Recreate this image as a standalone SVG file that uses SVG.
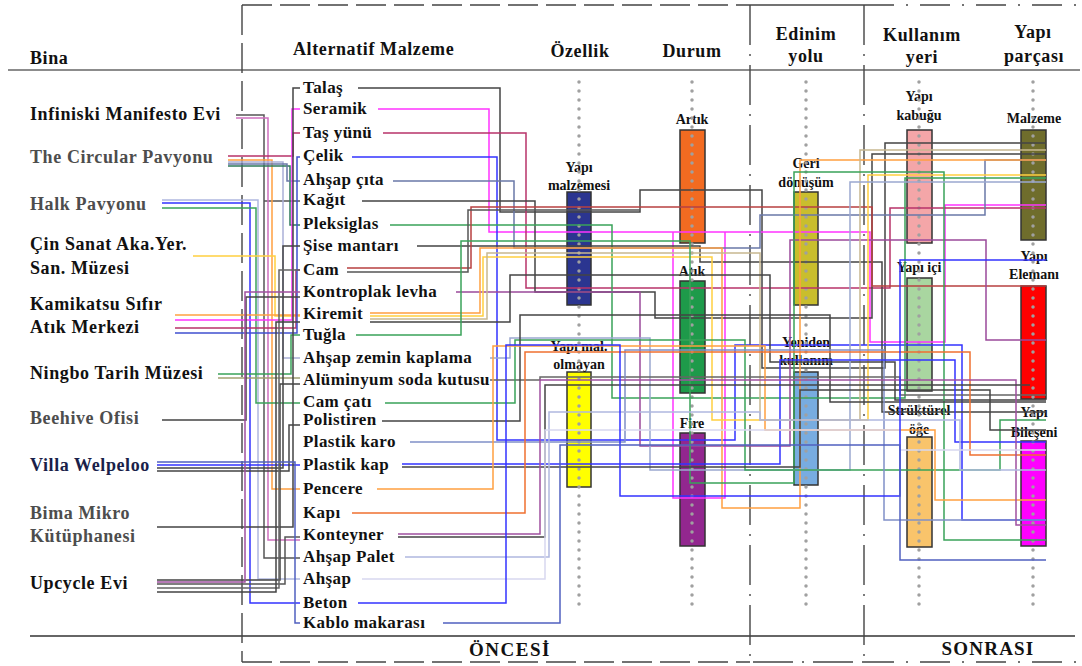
<svg xmlns="http://www.w3.org/2000/svg" width="1082" height="666" viewBox="0 0 1082 666">
<defs>
<style>
text{font-family:"Liberation Serif","Times New Roman",serif;font-weight:bold;fill:#111}
.h{font-size:18px;letter-spacing:0.6px}
.b{font-size:18px;letter-spacing:0.6px}
.bg{fill:#4d4d4d}
.bn{fill:#1a1f4a}
.m{font-size:17px;letter-spacing:0.4px}
.l{font-size:14px;text-anchor:middle}
.c{text-anchor:middle}
.bar{stroke:#333;stroke-width:1.5}
.dot{stroke:#a0a0a0;stroke-width:3.5;stroke-dasharray:0 9;stroke-linecap:round;fill:none}
.fr{stroke:#444;stroke-width:1.4;fill:none}
.cn path{fill:none;stroke-width:1.5}
</style>
</defs>
<rect width="1082" height="666" fill="#fff"/>
<g id="frame">
<line x1="8" y1="70" x2="1080" y2="70" stroke="#666" stroke-width="1.5"/>
<line x1="30" y1="636" x2="1075" y2="636" stroke="#333" stroke-width="1.3"/>
<path class="fr" d="M242,5 V662 M242,5 H750 M242,662 H750" stroke-dasharray="30 8"/>
<path class="fr" d="M750,5 H864"/>
<path class="fr" d="M750,5 V662 H864 M864,5 V662" stroke-dasharray="40 9 2 9"/>
<path class="fr" d="M864,5 H1080 M864,662 H1080" stroke-dasharray="30 12 2 12"/>
</g>
<g id="headers">
<text class="h" x="30" y="64">Bina</text>
<text class="h" x="293" y="55">Alternatif Malzeme</text>
<text class="h c" x="580" y="57">Özellik</text>
<text class="h c" x="692" y="57">Durum</text>
<text class="h c" x="806" y="40">Edinim</text>
<text class="h c" x="806" y="62">yolu</text>
<text class="h c" x="922" y="41">Kullanım</text>
<text class="h c" x="922" y="63">yeri</text>
<text class="h c" x="1033" y="38">Yapı</text>
<text class="h c" x="1034" y="62">parçası</text>
<text class="h c" x="510" y="656" style="font-size:19px;letter-spacing:1.5px">ÖNCESİ</text>
<text class="h c" x="988" y="655" style="font-size:19px;letter-spacing:1.2px">SONRASI</text>
</g>
<g id="bars">
<g id="yapi-malzemesi"><rect class="bar" x="567" y="192" width="24" height="113" fill="#2b3590"/><text class="l" x="579" y="172">Yapı</text><text class="l" x="579" y="190">malzemesi</text></g>
<g id="yapi-mal-olmayan"><rect class="bar" x="567" y="372" width="24" height="115" fill="#ffff00"/><text class="l" x="579" y="351">Yapı mal.</text><text class="l" x="579" y="369">olmayan</text></g>
<g id="artik"><rect class="bar" x="680" y="130" width="25" height="113" fill="#f26b21"/><text class="l" x="692" y="124">Artık</text></g>
<g id="atik"><rect class="bar" x="680" y="281" width="25" height="112" fill="#1e9a4a"/><text class="l" x="692" y="276">Atık</text></g>
<g id="fire"><rect class="bar" x="680" y="433" width="25" height="113" fill="#92278f"/><text class="l" x="692" y="428">Fire</text></g>
<g id="geri-donusum"><rect class="bar" x="794" y="192" width="24" height="113" fill="#c9be2d"/><text class="l" x="806" y="168">Geri</text><text class="l" x="806" y="187">dönüşüm</text></g>
<g id="yeniden-kullanim"><rect class="bar" x="794" y="372" width="24" height="113" fill="#78ace0"/><text class="l" x="806" y="347">Yeniden</text><text class="l" x="806" y="365">kullanım</text></g>
<g id="yapi-kabugu"><rect class="bar" x="907" y="130" width="25" height="113" fill="#f4a6a8"/><text class="l" x="919" y="101">Yapı</text><text class="l" x="919" y="120">kabuğu</text></g>
<g id="yapi-ici"><rect class="bar" x="907" y="278" width="25" height="113" fill="#a9d6a0"/><text class="l" x="919" y="272">Yapı içi</text></g>
<g id="strukturel-oge"><rect class="bar" x="907" y="437" width="25" height="110" fill="#f9c46b"/><text class="l" x="919" y="415">Strüktürel</text><text class="l" x="919" y="434">öğe</text></g>
<g id="malzeme"><rect class="bar" x="1021" y="130" width="25" height="110" fill="#6f6d2c"/><text class="l" x="1034" y="123">Malzeme</text></g>
<g id="yapi-elemani"><rect class="bar" x="1021" y="286" width="25" height="113" fill="#ff0000"/><text class="l" x="1034" y="261">Yapı</text><text class="l" x="1034" y="279">Elemanı</text></g>
<g id="yapi-bileseni"><rect class="bar" x="1021" y="441" width="25" height="105" fill="#ff00ff"/><text class="l" x="1034" y="417">Yapı</text><text class="l" x="1034" y="437">Bileşeni</text></g>
</g>
<g id="columns">
<path class="dot" d="M579,82 V612 M692,82 V612 M806,82 V612 M919,82 V612 M1033,82 V612"/>
</g>
<g id="connectors" class="cn">
<path stroke="#555" d="M236,115 H264 V558 H300 M264,201 H300"/>
<path stroke="#d070c0" d="M236,118 H268 V540 H300"/>
<path stroke="#b8336a" d="M228,156 H293 V133 H300"/>
<path stroke="#ffa040" d="M228,160 H272 V489 H300"/>
<path stroke="#aab0d8" d="M228,162 H283 V358 H300"/>
<path stroke="#2e7a5a" d="M228,166 H290 V225 H300"/>
<path stroke="#6a78a8" d="M228,164 H287 V181 H300"/>
<path stroke="#3333ff" d="M162,203 H250 V603 H300"/>
<path stroke="#b0b8e0" d="M162,200 H258 V579 H300"/>
<path stroke="#3aa35a" d="M162,208 H256 V403 H300"/>
<path stroke="#ffd040" d="M193,256 H275 V316 H300"/>
<path stroke="#ffa040" d="M175,315 H300"/>
<path stroke="#ff33ff" d="M175,320 H292 V109 H300"/>
<path stroke="#b8336a" d="M175,328 H296 V270 H300"/>
<path stroke="#4050d0" d="M175,333 H297 V157 H300"/>
<path stroke="#3aa35a" d="M218,374 H291 V335 H300"/>
<path stroke="#a0a070" d="M218,378 H300"/>
<path stroke="#444" d="M162,420 H246 V297 H300"/>
<path stroke="#3333ff" d="M157,465 H300"/>
<path stroke="#444" d="M157,468 H283 V246 H300"/>
<path stroke="#444" d="M157,471 H289 V425 H300"/>
<path stroke="#444" d="M157,527 H293 V88 H300"/>
<path stroke="#444" d="M157,580 H280 V384 H300"/>
<path stroke="#555" d="M157,584 H285 V537 H300"/>
<path stroke="#666" d="M157,588 H279 V270 H300"/>
<path stroke="#444" d="M157,592 H276 V322 H300"/>
<path stroke="#a050a0" d="M157,582 H245 V292 H300"/>
<path stroke="#5060c0" d="M157,462 H295 V623 H300"/>

<path stroke="#444" d="M358,88 H500 V212 H640 V190 H762 V368 H885 V143 H1046"/>
<path stroke="#ff33ff" d="M378,109 H489 V232 H870 V342 H945 V205 H1046 M725,232 V498 H673 V232"/>
<path stroke="#b8336a" d="M383,133 H526 V288 H890 V208 H1046"/>
<path stroke="#3333ff" d="M352,157 H497 V440 H735 V345 H962 V520 H1046"/>
<path stroke="#6a78a8" d="M393,181 H514 V248 H760 V215 H985 V160 H1046"/>
<path stroke="#444" d="M362,201 H535 V292 H655 V318 H872 V154 H1046"/>
<path stroke="#3aa35a" d="M390,225 H612 V398 H905 V178 H1046"/>
<path stroke="#444" d="M417,246 H700 V262 H882 V412 H1046"/>
<path stroke="#b84040" d="M347,268 H471 V207 H872 V286 H1046"/>
<path stroke="#555" d="M347,272 H468 V210 H640"/>
<path stroke="#9a4a9a" d="M456,292 H640 V446 H790 V240 H986 V340 H1046"/>
<path stroke="#ffa040" d="M370,313 H480 V248 H722 V508 H800 V160 H1046"/>
<path stroke="#ffd040" d="M370,316 H483 V257 H712 V420 H868 V175 H1046"/>
<path stroke="#c8b890" d="M370,319 H487 V253 H760 V420 H860 V150 H1046"/>
<path stroke="#444" d="M370,322 H510 V275 H770 V362 H895 V400 H1046"/>
<path stroke="#3aa35a" d="M356,335 H461 V241 H690 V483 H794 V172 H944 V540 H1046"/>
<path stroke="#9aa8d0" d="M490,358 H510 V338 H650 V470 H850 V182 H1046"/>
<path stroke="#666" stroke-width="2.5" d="M490,380 H540 V377 H900 V395 H1046"/>
<path stroke="#3aa35a" d="M385,403 H515 V340 H745 V470 H1000 V420 H1046"/>
<path stroke="#444" d="M382,421 H520 V315 H830 V402 H1046"/>
<path stroke="#8090c8" d="M410,442 H625 V350 H884 V520 H1046"/>
<path stroke="#444" d="M402,467 H800 V390 H990 V430 H1046"/>
<path stroke="#3333ff" d="M402,464 H780 V360 H955 V442 H1046"/>
<path stroke="#ffa040" d="M377,489 H493 V346 H765 V430 H935 V500 H1046"/>
<path stroke="#f07030" d="M352,513 H525 V352 H970 V455 H1046"/>
<path stroke="#a050a0" d="M398,534 H540 V380 H1016 V525 H1046"/>
<path stroke="#444" d="M398,537 H545 V385 H1030"/>
<path stroke="#b0b8e0" d="M405,557 H549 V412 H760 V420 H960 V470 H1046"/>
<path stroke="#d8d8f0" d="M362,579 H545 V430 H900 V450 H1046"/>
<path stroke="#3333ff" d="M358,603 H506 V345 H620 V496 H900 V260 H1046"/>
<path stroke="#5060c0" d="M443,623 H560 V445 H900 V560 H1046"/>
</g>
<g id="buildings">
<text class="b" x="30" y="120">Infiniski Manifesto Evi</text>
<text class="b bg" x="30" y="163">The Circular Pavyonu</text>
<text class="b bg" x="30" y="210">Halk Pavyonu</text>
<text class="b" x="30" y="250">Çin Sanat Aka.Yer.</text>
<text class="b" x="30" y="274">San. Müzesi</text>
<text class="b" x="30" y="310">Kamikatsu Sıfır</text>
<text class="b" x="30" y="333">Atık Merkezi</text>
<text class="b" x="30" y="379">Ningbo Tarih Müzesi</text>
<text class="b bg" x="30" y="424">Beehive Ofisi</text>
<text class="b bn" x="30" y="471">Villa Welpeloo</text>
<text class="b bg" x="30" y="519">Bima Mikro</text>
<text class="b bg" x="30" y="542">Kütüphanesi</text>
<text class="b" x="30" y="589">Upcycle Evi</text>
</g>
<g id="materials">
<text class="m" x="303" y="93">Talaş</text>
<text class="m" x="303" y="114">Seramik</text>
<text class="m" x="303" y="138">Taş yünü</text>
<text class="m" x="303" y="161">Çelik</text>
<text class="m" x="303" y="185">Ahşap çıta</text>
<text class="m" x="303" y="205">Kağıt</text>
<text class="m" x="303" y="229">Pleksiglas</text>
<text class="m" x="303" y="251">Şise mantarı</text>
<text class="m" x="303" y="275">Cam</text>
<text class="m" x="303" y="297">Kontroplak levha</text>
<text class="m" x="303" y="319">Kiremit</text>
<text class="m" x="303" y="340">Tuğla</text>
<text class="m" x="303" y="363">Ahşap zemin kaplama</text>
<text class="m" x="303" y="385">Alüminyum soda kutusu</text>
<text class="m" x="303" y="407">Cam çatı</text>
<text class="m" x="303" y="425">Polistiren</text>
<text class="m" x="303" y="447">Plastik karo</text>
<text class="m" x="303" y="470">Plastik kap</text>
<text class="m" x="303" y="494">Pencere</text>
<text class="m" x="303" y="518">Kapı</text>
<text class="m" x="303" y="540">Konteyner</text>
<text class="m" x="303" y="562">Ahşap Palet</text>
<text class="m" x="303" y="584">Ahşap</text>
<text class="m" x="303" y="608">Beton</text>
<text class="m" x="303" y="628">Kablo makarası</text>
</g>
</svg>
